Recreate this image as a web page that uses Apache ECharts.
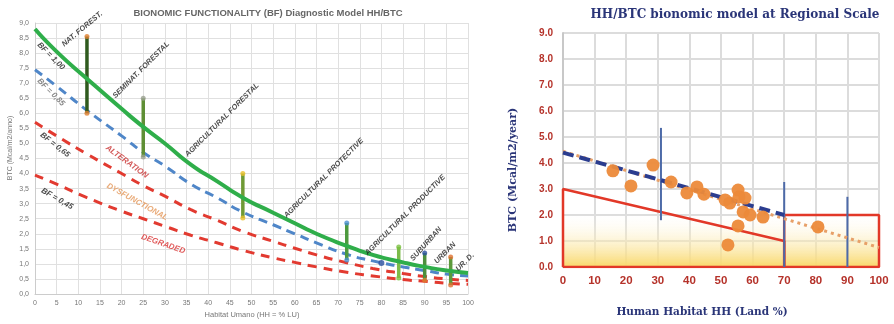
<!DOCTYPE html>
<html><head><meta charset="utf-8">
<script src="https://cdn.jsdelivr.net/npm/echarts@6/dist/echarts.min.js"></script>
<style>html,body{margin:0;padding:0;background:#fff}#c{width:894px;height:324px}</style>
</head><body><div id="c"></div>
<script>
// ---------- Left chart data ----------
const curveX = [0,5,12,20,25,30,36,42,48,55,60,65,72,78,85,90,95,100];
const bf100 = [8.8,8.05,7.15,6.15,5.55,5.0,4.3,3.75,3.2,2.7,2.35,2.0,1.6,1.3,1.05,0.9,0.78,0.7];
const bf085 = [7.45,6.9,6.1,5.25,4.7,4.25,3.65,3.2,2.72,2.3,2.0,1.7,1.32,1.1,0.9,0.78,0.66,0.6];
const bf065 = [5.7,5.25,4.65,4.0,3.6,3.25,2.8,2.45,2.08,1.75,1.52,1.3,1.04,0.85,0.68,0.58,0.5,0.45];
const bf045 = [3.95,3.65,3.2,2.75,2.5,2.25,1.95,1.7,1.45,1.2,1.05,0.9,0.72,0.6,0.48,0.42,0.36,0.32];
const rangeX    = [12,25,48,72,84,90,96];
const rangeLow  = [6.0,4.55,2.52,1.13,0.53,0.46,0.3];
const rangeHigh = [8.55,6.5,4.0,2.36,1.56,1.36,1.23];
const extraPointX = [80], extraPointY = [1.03];
const classLabels = ['NAT. FOREST.','SEMINAT. FORESTAL','AGRICULTURAL FORESTAL','AGRICULTURAL PROTECTIVE','AGRICULTURAL PRODUCTIVE','SUBURBAN','URBAN','UR. D.'];
const classLabelX = [10.9,24.5,43.2,66.7,85.5,90.3,94.7,99.3];
const classLabelY = [8.8,7.44,5.78,3.85,2.62,1.66,1.36,1.06];
const bfLabels = ['BF = 1,00','BF = 0,85','BF = 0,65','BF = 0,45'];
const bfLabelX = [3.7,3.7,4.6,5.1];
const bfLabelY = [7.9,6.7,4.95,3.16];
const zoneLabels = ['ALTERATION','DYSFUNCTIONAL','DEGRADED'];
const zoneLabelX = [21.2,23.6,29.6];
const zoneLabelY = [4.39,3.06,1.66];

// ---------- Right chart data ----------
const ptX = [15.8,21.5,28.5,34.2,39.2,42.4,44.6,51.3,52.8,55.4,55.7,57.6,57.0,59.2,63.3,55.4,52.2,80.7];
const ptY = [3.7,3.12,3.92,3.27,2.85,3.08,2.8,2.58,2.46,2.96,2.7,2.65,2.12,2.0,1.92,1.58,0.85,1.54];
const trendBlueX = [0,70], trendBlueY = [4.4,2.0];
const trendOrangeX = [0,100], trendOrangeY = [4.45,0.75];
const polyX = [0,0,70,70,0], polyY = [0,3.0,1.0,0,0];
const rectX = [70,70,100,100,70], rectY = [0,2.0,2.0,0,0];
const vLineX = [31,70,90], vLineLow = [1.8,0,0], vLineHigh = [5.35,3.27,2.7];

const zip = (a,b) => a.map((v,i)=>[v,b[i]]);
const series = [];
const lf = 'Liberation Sans';

// left curves
series.push({type:'line',xAxisIndex:0,yAxisIndex:0,data:zip(curveX,bf045),smooth:0.6,symbol:'none',lineStyle:{color:'#e23a30',width:3,type:[9,7]},z:3});
series.push({type:'line',xAxisIndex:0,yAxisIndex:0,data:zip(curveX,bf065),smooth:0.6,symbol:'none',lineStyle:{color:'#e23a30',width:3,type:[9,7]},z:3});
series.push({type:'line',xAxisIndex:0,yAxisIndex:0,data:zip(curveX,bf085),smooth:0.6,symbol:'none',lineStyle:{color:'#4f86c8',width:3,type:[9,6]},z:3});
// ranges
const barCol = ['#2f5a1e','#5f8f35','#6f9a35','#4d9a3e','#7cbb4a','#4d8f3c','#5c9a3c'];
const topCol = ['#e0802f','#9aa090','#e8c02a','#4a8fd0','#7ac040','#2a50a0','#e0702f'];
const botCol = ['#e0802f','#9aa090','#e8c02a','#4a8fd0','#7ac040','#e0802f','#e0702f'];
rangeX.forEach((x,i)=>{
  series.push({type:'line',xAxisIndex:0,yAxisIndex:0,data:[[x,rangeLow[i]],[x,rangeHigh[i]]],symbol:'none',lineStyle:{color:barCol[i],width:3.5},z:4});
  series.push({type:'scatter',xAxisIndex:0,yAxisIndex:0,data:[[x,rangeHigh[i]]],symbolSize:5,itemStyle:{color:topCol[i]},z:5});
  series.push({type:'scatter',xAxisIndex:0,yAxisIndex:0,data:[[x,rangeLow[i]]],symbolSize:5,itemStyle:{color:botCol[i]},z:5});
});
series.push({type:'scatter',xAxisIndex:0,yAxisIndex:0,data:zip(extraPointX,extraPointY),symbolSize:6,itemStyle:{color:'#2a50a0'},z:5});
series.push({type:'line',xAxisIndex:0,yAxisIndex:0,data:zip(curveX,bf100),smooth:0.6,symbol:'none',lineStyle:{color:'#2fae4a',width:4},z:6});

function labelSeries(xs,ys,texts,rots,colors,size){
  return {type:'scatter',xAxisIndex:0,yAxisIndex:0,symbolSize:0,z:10,silent:true,
    data:xs.map((x,i)=>({value:[x,ys[i]],label:{show:true,position:'inside',formatter:texts[i],rotate:rots[i],color:colors[i],fontSize:size,fontWeight:'bold',fontStyle:'italic',fontFamily:lf}}))};
}
series.push(labelSeries(classLabelX,classLabelY,classLabels,[40,45,45,45,45,48,45,45],Array(8).fill('#1a1a1a'),7.5));
series.push(labelSeries(bfLabelX,bfLabelY,bfLabels,[-45,-45,-38,-30],['#1a1a1a','#6a6a6a','#1a1a1a','#1a1a1a'],8));
series.push(labelSeries(zoneLabelX,zoneLabelY,zoneLabels,[-36,-29,-19],['#c83030','#e39555','#d83030'],8));

// right chart
series.push({type:'line',xAxisIndex:1,yAxisIndex:1,data:[],symbol:'none',
  markArea:{silent:true,itemStyle:{color:{type:'linear',x:0,y:0,x2:0,y2:1,colorStops:[{offset:0,color:'rgba(255,255,255,0)'},{offset:1,color:'#f9d86a'}]}},data:[[{coord:[0,2.1]},{coord:[100,0]}]]},z:1});
series.push({type:'line',xAxisIndex:1,yAxisIndex:1,data:zip(polyX,polyY),symbol:'none',lineStyle:{color:'#e23828',width:2.5},z:3});
series.push({type:'line',xAxisIndex:1,yAxisIndex:1,data:zip(rectX,rectY),symbol:'none',lineStyle:{color:'#e23828',width:2.5},z:3});
vLineX.forEach((x,i)=>{
  series.push({type:'line',xAxisIndex:1,yAxisIndex:1,data:[[x,vLineLow[i]],[x,vLineHigh[i]]],symbol:'none',lineStyle:{color:'#4d6aa8',width:2},z:4});
});
series.push({type:'line',xAxisIndex:1,yAxisIndex:1,data:zip(trendOrangeX,trendOrangeY),symbol:'none',lineStyle:{color:'#e7a068',width:3,type:[3,4]},z:5});
series.push({type:'line',xAxisIndex:1,yAxisIndex:1,data:zip(trendBlueX,trendBlueY),symbol:'none',lineStyle:{color:'#2b3d8f',width:4,type:[11,6]},z:6});
series.push({type:'scatter',xAxisIndex:1,yAxisIndex:1,data:zip(ptX,ptY),symbolSize:13,itemStyle:{color:'#ec8a3a',opacity:0.95},z:7});

const option = {
  animation:false,
  title:[
    {text:'BIONOMIC FUNCTIONALITY (BF) Diagnostic Model HH/BTC',left:263,top:3,textAlign:'center',textStyle:{fontSize:9.5,fontWeight:'bold',color:'#666',fontFamily:lf}},
    {text:'HH/BTC bionomic model at Regional Scale',left:730,top:4,textAlign:'center',textStyle:{fontSize:12,fontWeight:'900',color:'#2a3578',fontFamily:'DejaVu Serif'}}
  ],
  grid:[
    {left:35,top:23,width:433,height:271},
    {left:563,top:33,width:316,height:234}
  ],
  xAxis:[
    {gridIndex:0,type:'value',min:0,max:100,interval:5,axisLine:{show:true,lineStyle:{color:'#ccc'}},axisTick:{show:false},
     axisLabel:{fontSize:7,color:'#777',fontFamily:lf,margin:6},splitLine:{show:true,lineStyle:{color:'#e0e0e0'}}},
    {gridIndex:1,type:'value',min:0,max:100,interval:10,axisLine:{show:true,lineStyle:{color:'#c8c8c8',width:2}},axisTick:{show:false},
     axisLabel:{fontSize:11.5,fontWeight:'bold',color:'#b5322a',fontFamily:lf,margin:8},splitLine:{show:true,lineStyle:{color:'#dcdcdc',width:2}}}
  ],
  yAxis:[
    {gridIndex:0,type:'value',min:0,max:9,interval:0.5,axisLine:{show:true,lineStyle:{color:'#ccc'}},axisTick:{show:false},
     axisLabel:{fontSize:7,color:'#777',fontFamily:lf,margin:6,formatter:v=>v.toFixed(1).replace('.',',')},splitLine:{show:true,lineStyle:{color:'#e0e0e0'}}},
    {gridIndex:1,type:'value',min:0,max:9,interval:1,axisLine:{show:true,lineStyle:{color:'#c8c8c8',width:2}},axisTick:{show:false},
     axisLabel:{fontSize:10,fontWeight:'bold',color:'#b5322a',fontFamily:lf,margin:10,formatter:v=>v.toFixed(1)},splitLine:{show:true,lineStyle:{color:'#dcdcdc',width:2}}}
  ],
  graphic:[
    {type:'text',x:10,y:148,rotation:Math.PI/2,style:{text:'BTC (Mcal/m2/anno)',fill:'#777',font:'7px "Liberation Sans"',textAlign:'center',textVerticalAlign:'middle'}},
    {type:'text',x:252,y:315,style:{text:'Habitat Umano (HH = % LU)',fill:'#777',font:'7.5px "Liberation Sans"',textAlign:'center',textVerticalAlign:'middle'}},
    {type:'text',x:513,y:170,rotation:Math.PI/2,style:{text:'BTC (Mcal/m2/year)',fill:'#2a3578',font:'bold 11px "DejaVu Serif"',textAlign:'center',textVerticalAlign:'middle'}},
    {type:'text',x:702,y:312,style:{text:'Human Habitat HH (Land %)',fill:'#2a3578',font:'bold 10.5px "DejaVu Serif"',textAlign:'center',textVerticalAlign:'middle'}}
  ],
  series:series
};
const chart = echarts.init(document.getElementById('c'),null,{renderer:'canvas'});
chart.setOption(option);
</script></body></html>
